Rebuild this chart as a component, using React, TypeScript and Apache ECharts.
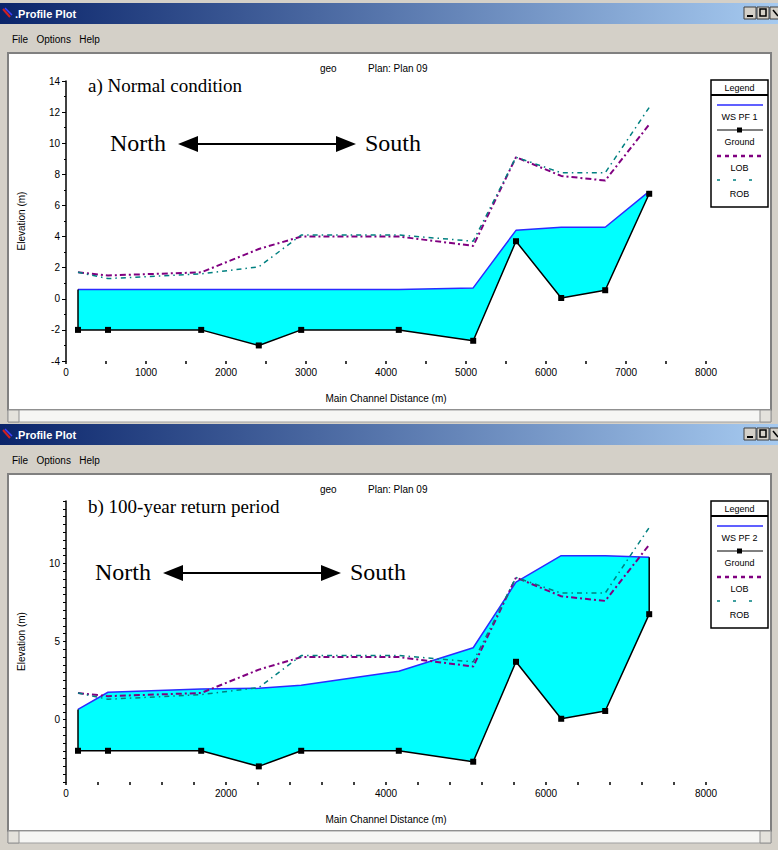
import React, { useEffect, useRef } from "react";
import * as echarts from "echarts";

// ---- data ----
const stations = [150, 525, 1690, 2410, 2940, 4160, 5090, 5625, 6190, 6740, 7290];
const groundElev = [-2, -2, -2, -3.0, -2, -2, -2.7, 3.7, 0.05, 0.55, 6.75];
const wsNormal = [0.6, 0.6, 0.6, 0.6, 0.6, 0.6, 0.7, 4.4, 4.6, 4.6, 6.9];
const ws100yr = [0.65, 1.75, 1.95, 2.0, 2.2, 3.1, 4.6, 8.8, 10.5, 10.5, 10.4];
const lobElev = [1.7, 1.5, 1.7, 3.2, 4.0, 4.0, 3.4, 9.1, 7.9, 7.6, 11.2];
const robElev = [1.7, 1.3, 1.6, 2.05, 4.1, 4.1, 3.7, 9.1, 8.1, 8.1, 12.3];

const panelTitles = ["a) Normal condition", "b) 100-year return period"];
const wsNames = ["WS PF 1", "WS PF 2"];
const legendItems = ["Ground", "LOB", "ROB"];
const yLabels100 = [0, 5, 10];

const SANS = '"Liberation Sans", Arial, sans-serif';
const SERIF = '"Liberation Serif", "Times New Roman", serif';
const CYAN = "#00ffff";
const BLUE = "#2b2bff";
const PURPLE = "#800080";
const TEAL = "#008080";

const pts = (ys: number[]) => stations.map((s, i) => [s, ys[i]]);

function seriesFor(gi: number, ws: number[]) {
  const n = stations.length - 1;
  return [
    {
      type: "custom",
      xAxisIndex: gi,
      yAxisIndex: gi,
      data: pts(ws),
      encode: { x: 0, y: 1 },
      z: 1,
      silent: true,
      renderItem: (params: any, api: any) => {
        if (params.dataIndex !== 0) return { type: "group", children: [] };
        const top = stations.map((s, i) => api.coord([s, ws[i]]));
        const bot = stations.map((s, i) => api.coord([s, groundElev[i]])).reverse();
        return {
          type: "polygon",
          shape: { points: top.concat(bot) },
          style: { fill: CYAN, stroke: "none" },
        };
      },
    },
    {
      type: "line",
      xAxisIndex: gi,
      yAxisIndex: gi,
      data: pts(ws),
      symbol: "none",
      z: 3,
      lineStyle: { color: BLUE, width: 1.5 },
    },
    {
      type: "line",
      xAxisIndex: gi,
      yAxisIndex: gi,
      data: pts(lobElev),
      symbol: "none",
      z: 4,
      lineStyle: { color: PURPLE, width: 2, type: [6, 3, 2, 3] },
    },
    {
      type: "line",
      xAxisIndex: gi,
      yAxisIndex: gi,
      data: pts(robElev),
      symbol: "none",
      z: 4,
      lineStyle: { color: TEAL, width: 1.5, type: [5, 4, 1.5, 4] },
    },
    {
      type: "line",
      xAxisIndex: gi,
      yAxisIndex: gi,
      data: pts(groundElev),
      symbol: "rect",
      symbolSize: 6,
      itemStyle: { color: "#000" },
      z: 5,
      lineStyle: { color: "#000", width: 1.5 },
    },
    {
      type: "line",
      xAxisIndex: gi,
      yAxisIndex: gi,
      data: [
        [stations[0], groundElev[0]],
        [stations[0], ws[0]],
      ],
      symbol: "none",
      z: 5,
      lineStyle: { color: "#000", width: 1.5 },
    },
    {
      type: "line",
      xAxisIndex: gi,
      yAxisIndex: gi,
      data: [
        [stations[n], groundElev[n]],
        [stations[n], ws[n]],
      ],
      symbol: "none",
      z: 5,
      lineStyle: { color: "#000", width: 1.5 },
    },
  ];
}

function txt(x: number, y: number, text: string, font: string, extra: any = {}) {
  return {
    type: "text",
    x,
    y,
    z: 10,
    style: { text, font, fill: "#000", textVerticalAlign: "middle", ...extra },
  };
}

function windowChrome(oy: number) {
  const els: any[] = [];
  els.push({
    type: "rect",
    shape: { x: 0, y: oy + 3, width: 778, height: 21 },
    style: {
      fill: new echarts.graphic.LinearGradient(0, 0, 1, 0, [
        { offset: 0, color: "#0a246a" },
        { offset: 1, color: "#a6caf0" },
      ]),
    },
  });
  els.push({ type: "line", shape: { x1: 3, y1: oy + 9, x2: 10, y2: oy + 17 }, style: { stroke: "#d02020", lineWidth: 2 } });
  els.push({ type: "line", shape: { x1: 5, y1: oy + 8, x2: 12, y2: oy + 15 }, style: { stroke: "#4040ff", lineWidth: 1.5 } });
  els.push(txt(15, oy + 14, ".Profile Plot", `bold 11px ${SANS}`, { fill: "#fff" }));
  const bx = [744, 757, 770];
  bx.forEach((x) => {
    els.push({
      type: "rect",
      shape: { x, y: oy + 7, width: 12, height: 12 },
      style: { fill: "#d4d0c8", stroke: "#404040", lineWidth: 1 },
    });
  });
  els.push({ type: "line", shape: { x1: 747, y1: oy + 16, x2: 753, y2: oy + 16 }, style: { stroke: "#000", lineWidth: 2 } });
  els.push({ type: "rect", shape: { x: 760, y: oy + 9, width: 6, height: 7 }, style: { fill: "none", stroke: "#000", lineWidth: 1.5 } });
  els.push({ type: "line", shape: { x1: 773, y1: oy + 10, x2: 778, y2: oy + 16 }, style: { stroke: "#000", lineWidth: 1.5 } });
  els.push(txt(12, oy + 39, "File   Options   Help", `10px ${SANS}`));
  els.push({
    type: "rect",
    shape: { x: 8, y: oy + 53, width: 763, height: 357 },
    style: { fill: "#fff", stroke: "#808080", lineWidth: 2 },
  });
  els.push({
    type: "rect",
    shape: { x: 8, y: oy + 410, width: 763, height: 12 },
    style: { fill: "#f6f6f4", stroke: "#a0a0a0", lineWidth: 1 },
  });
  els.push({ type: "rect", shape: { x: 8, y: oy + 410, width: 11, height: 12 }, style: { fill: "#e4e2dc", stroke: "#909090" } });
  els.push({ type: "rect", shape: { x: 760, y: oy + 410, width: 11, height: 12 }, style: { fill: "#e4e2dc", stroke: "#909090" } });
  return els;
}

function panelTexts(oy: number, idx: number, northX: number, northY: number) {
  const els: any[] = [];
  els.push(txt(320, oy + 68, "geo", `10px ${SANS}`));
  els.push(txt(368, oy + 68, "Plan: Plan 09", `10px ${SANS}`));
  els.push(txt(88, oy + 85, panelTitles[idx], `19px ${SERIF}`));
  els.push(txt(northX, northY, "North", `24px ${SERIF}`));
  const a1 = northX + 68;
  const a2 = northX + 246;
  els.push({ type: "line", shape: { x1: a1 + 14, y1: northY + 1, x2: a2 - 14, y2: northY + 1 }, style: { stroke: "#000", lineWidth: 2 } });
  els.push({ type: "polygon", shape: { points: [[a1, northY + 1], [a1 + 20, northY - 7], [a1 + 20, northY + 9]] }, style: { fill: "#000" } });
  els.push({ type: "polygon", shape: { points: [[a2, northY + 1], [a2 - 20, northY - 7], [a2 - 20, northY + 9]] }, style: { fill: "#000" } });
  els.push(txt(a2 + 9, northY, "South", `24px ${SERIF}`));
  return els;
}

function legendBox(oy: number, idx: number) {
  const els: any[] = [];
  const x0 = 711;
  const w = 57;
  const cx = x0 + w / 2;
  const y0 = oy + 80;
  els.push({ type: "rect", z: 9, shape: { x: x0, y: y0, width: w, height: 127 }, style: { fill: "#fff", stroke: "#000", lineWidth: 1.5 } });
  els.push(txt(cx, y0 + 8, "Legend", `9px ${SANS}`, { textAlign: "center" }));
  els.push({ type: "line", z: 10, shape: { x1: x0, y1: y0 + 15, x2: x0 + w, y2: y0 + 15 }, style: { stroke: "#000", lineWidth: 2 } });
  els.push({ type: "line", z: 10, shape: { x1: x0 + 6, y1: y0 + 25, x2: x0 + w - 5, y2: y0 + 25 }, style: { stroke: BLUE, lineWidth: 1.5 } });
  els.push(txt(cx, y0 + 37, wsNames[idx], `9px ${SANS}`, { textAlign: "center" }));
  els.push({ type: "line", z: 10, shape: { x1: x0 + 6, y1: y0 + 50, x2: x0 + w - 5, y2: y0 + 50 }, style: { stroke: "#000", lineWidth: 1 } });
  els.push({ type: "rect", z: 10, shape: { x: cx - 2.5, y: y0 + 47.5, width: 5, height: 5 }, style: { fill: "#000" } });
  els.push(txt(cx, y0 + 62, legendItems[0], `9px ${SANS}`, { textAlign: "center" }));
  els.push({ type: "line", z: 10, shape: { x1: x0 + 6, y1: y0 + 76, x2: x0 + w - 5, y2: y0 + 76 }, style: { stroke: PURPLE, lineWidth: 2.5, lineDash: [4, 4] } });
  els.push(txt(cx, y0 + 88, legendItems[1], `9px ${SANS}`, { textAlign: "center" }));
  els.push({ type: "line", z: 10, shape: { x1: x0 + 6, y1: y0 + 100, x2: x0 + w - 5, y2: y0 + 100 }, style: { stroke: TEAL, lineWidth: 1.5, lineDash: [3, 13] } });
  els.push(txt(cx, y0 + 114, legendItems[2], `9px ${SANS}`, { textAlign: "center" }));
  return els;
}

const tickValues100: number[] = [];
for (let v = -4; v <= 14; v += 0.5) tickValues100.push(v);

export default function App() {
  const ref = useRef<HTMLDivElement>(null);
  useEffect(() => {
    if (!ref.current) return;
    const chart = echarts.init(ref.current, null, { renderer: "svg" });
    const labelStyle = { color: "#000", fontSize: 10, fontFamily: SANS };
    const baseX = {
      type: "value",
      min: 0,
      max: 8000,
      axisLine: { show: false, onZero: false },
      splitLine: { show: false },
      axisTick: { show: true, length: 3, lineStyle: { color: "#000", width: 1.5 } },
      axisLabel: { ...labelStyle, margin: 6, formatter: (v: number) => String(v) },
      name: "Main Channel Distance (m)",
      nameLocation: "middle",
      nameGap: 32,
      nameTextStyle: { ...labelStyle },
    };
    const baseY = {
      type: "value",
      min: -4,
      max: 14,
      axisLine: { show: true, onZero: false, lineStyle: { color: "#000", width: 1.5 } },
      splitLine: { show: false },
      axisTick: { show: true, length: 4, lineStyle: { color: "#000" } },
      axisLabel: { ...labelStyle, margin: 6 },
      name: "Elevation (m)",
      nameLocation: "middle",
      nameGap: 40,
      nameTextStyle: { ...labelStyle },
    };
    const option: any = {
      animation: false,
      backgroundColor: "#d4d0c8",
      grid: [
        { left: 66, top: 81, width: 640, height: 280 },
        { left: 66, top: 501, width: 640, height: 281 },
      ],
      xAxis: [
        { ...baseX, gridIndex: 0, interval: 1000, minorTick: { show: true, splitNumber: 2, length: 3, lineStyle: { color: "#000", width: 1.5 } } },
        { ...baseX, gridIndex: 1, interval: 2000, minorTick: { show: true, splitNumber: 5, length: 3, lineStyle: { color: "#000", width: 1.5 } } },
      ],
      yAxis: [
        { ...baseY, gridIndex: 0, interval: 2, minorTick: { show: true, splitNumber: 2, length: 2, lineStyle: { color: "#000" } } },
        {
          ...baseY,
          gridIndex: 1,
          interval: 1,
          axisLabel: { ...labelStyle, margin: 6, customValues: yLabels100 },
          axisTick: { show: true, length: 3, lineStyle: { color: "#000" }, customValues: tickValues100 },
        },
      ],
      graphic: {
        elements: [
          ...windowChrome(0),
          ...windowChrome(421),
          ...panelTexts(0, 0, 110, 143),
          ...panelTexts(421, 1, 95, 572),
          ...legendBox(0, 0),
          ...legendBox(421, 1),
        ],
      },
      series: [...seriesFor(0, wsNormal), ...seriesFor(1, ws100yr)],
    };
    chart.setOption(option);
    return () => chart.dispose();
  }, []);
  return (
    <div
      ref={ref}
      style={{ position: "absolute", left: 0, top: 0, width: 778, height: 850 }}
    />
  );
}
